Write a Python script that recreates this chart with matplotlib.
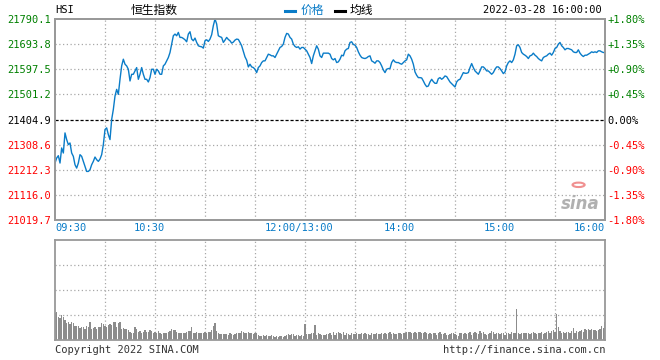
import matplotlib
matplotlib.use('Agg')
import matplotlib.pyplot as plt
import matplotlib.transforms as mtransforms
from matplotlib.lines import Line2D
from matplotlib.patches import Circle

# ---- data (one value per trading minute, 09:30 .. 16:00, lunch break removed) ----
prev_close = 21404.9
y_ticks = [21019.7, 21116.0, 21212.3, 21308.6, 21404.9, 21501.2, 21597.5, 21693.8, 21790.1]
y_labels = ['21019.7', '21116.0', '21212.3', '21308.6', '21404.9',
            '21501.2', '21597.5', '21693.8', '21790.1']
pct_labels = ['-1.80%', '-1.35%', '-0.90%', '-0.45%', '0.00%',
              '+0.45%', '+0.90%', '+1.35%', '+1.80%']
x_ticks = [0, 60, 150, 210, 270, 330]
x_labels = ['09:30', '10:30', '12:00/13:00', '14:00', '15:00', '16:00']
grid_x = list(range(0, 331, 30))

price = [
    21238.0, 21257.2, 21266.2, 21238.0, 21295.8, 21276.5, 21353.5, 21327.9, 21308.6, 21315.0,
    21276.5, 21263.7, 21231.6, 21218.7, 21238.0, 21270.1, 21263.7, 21244.4, 21225.1, 21205.9,
    21205.9, 21212.3, 21231.6, 21244.4, 21261.1, 21250.8, 21244.4, 21253.4, 21270.1, 21308.6,
    21366.4, 21372.8, 21347.1, 21327.9, 21404.9, 21443.4, 21494.8, 21520.5, 21501.2, 21559.0,
    21610.3, 21636.0, 21616.8, 21610.3, 21597.5, 21552.6, 21578.2, 21578.2, 21591.1, 21603.9,
    21559.0, 21578.2, 21603.9, 21578.2, 21559.0, 21559.0, 21548.7, 21565.4, 21597.5, 21597.5,
    21578.2, 21597.5, 21591.1, 21578.2, 21578.2, 21610.3, 21616.8, 21629.6, 21642.4, 21661.7,
    21693.8, 21725.9, 21732.3, 21725.9, 21738.7, 21719.5, 21719.5, 21715.6, 21710.5, 21702.8,
    21732.3, 21741.3,
    21713.1, 21706.7, 21717.0, 21700.3, 21687.4, 21684.9, 21683.6, 21678.4, 21706.7, 21710.5,
    21704.1, 21713.1, 21729.8, 21764.5, 21790.1, 21770.9, 21725.9, 21722.1, 21719.5, 21700.3,
    21709.2, 21719.5, 21711.8, 21706.7, 21697.7, 21701.5, 21709.2, 21713.1, 21711.8, 21700.3,
    21687.4, 21665.6, 21645.0, 21632.2, 21606.5, 21616.8, 21606.5, 21604.0, 21597.5, 21584.7,
    21604.0, 21610.4, 21623.2, 21629.6, 21629.6, 21642.5, 21655.3, 21652.8, 21648.9, 21648.9,
    21642.5, 21655.3, 21668.2, 21681.0, 21684.9, 21693.8, 21719.5, 21734.9, 21732.4, 21719.5,
    21713.1, 21693.8, 21684.9, 21681.0, 21683.6, 21674.6, 21681.0, 21681.0, 21674.6, 21668.2,
    21655.3, 21642.5, 21619.4, 21648.9, 21668.2, 21687.4, 21674.6,
    21648.9, 21642.5, 21659.2, 21659.2, 21659.2, 21659.2, 21655.3, 21638.6, 21633.5, 21638.6,
    21623.2, 21625.8, 21636.0, 21651.4, 21648.9, 21668.1, 21674.6, 21677.1, 21700.2, 21702.8,
    21692.5, 21690.0, 21681.0, 21664.3, 21651.4, 21642.5, 21639.9, 21638.6, 21641.2, 21646.3,
    21648.9, 21629.6, 21625.8, 21620.6, 21629.6, 21629.6, 21623.2, 21610.4, 21595.0, 21584.7,
    21597.5, 21600.1, 21600.1, 21623.2, 21633.5, 21625.8, 21623.2, 21623.2, 21619.3, 21616.8,
    21623.2, 21629.6, 21633.5, 21655.3, 21648.9, 21636.0, 21616.8, 21587.2, 21574.4, 21565.4,
    21565.4, 21564.1, 21552.6, 21539.7, 21530.8, 21533.3, 21548.7, 21559.0, 21550.0, 21543.6,
    21543.6, 21561.6, 21565.4, 21559.0, 21564.1, 21571.8, 21569.3, 21559.0, 21548.7, 21542.3,
    21535.9, 21529.5, 21548.7, 21556.4,
    21559.0, 21571.8, 21584.7, 21582.1, 21582.1, 21584.7, 21603.9, 21619.3, 21603.9, 21591.1,
    21584.7, 21578.3, 21591.1, 21606.5, 21606.5, 21600.1, 21591.1, 21591.1, 21584.7, 21578.3,
    21584.7, 21597.5, 21606.5, 21606.5, 21600.1, 21591.1, 21580.8, 21587.2, 21610.4, 21623.2,
    21629.6, 21623.2, 21633.5, 21655.3, 21687.4, 21691.3, 21681.0, 21661.7, 21655.3, 21651.4,
    21646.3, 21638.6, 21648.9, 21651.4, 21659.2, 21651.4, 21646.3, 21638.6, 21633.5, 21629.6,
    21642.5, 21646.3, 21648.9, 21655.3, 21659.2, 21651.4, 21661.7, 21677.1, 21681.0, 21693.8,
    21700.2, 21687.4, 21681.0, 21672.0, 21677.1, 21677.1, 21674.6, 21672.0, 21664.3, 21661.7,
    21661.7, 21672.0, 21659.2, 21651.4, 21646.3, 21651.4, 21651.4, 21655.3, 21659.2, 21664.3,
    21661.7, 21664.3, 21661.7, 21668.1, 21668.1, 21664.3, 21661.7, 21661.7,
]

volume = [
    80, 85, 70, 65, 75, 70, 60, 50, 55, 48,
    55, 50, 42, 42, 42, 35, 40, 40, 32, 42,
    38, 55, 32, 35, 40, 32, 38, 40, 50, 48,
    42, 40, 45, 48, 45, 55, 55, 38, 52, 55,
    32, 35, 32, 34, 30, 25, 20, 20, 40, 32,
    25, 27, 22, 25, 30, 25, 25, 30, 27, 20,
    25, 22, 28, 20, 18, 22, 22, 22, 25, 27,
    32, 30, 30, 25, 22, 22, 20, 22, 20, 25,
    27, 28, 38, 20, 22, 24, 20, 22, 20, 22,
    24, 22, 24, 25, 30, 42, 50, 28, 22, 18,
    18, 18, 18, 18, 15, 20, 18, 15, 18, 20,
    22, 22, 28, 25, 22, 22, 24, 22, 22, 18,
    20, 22, 15, 12, 12, 15, 12, 15, 12, 12,
    14, 12, 10, 12, 10, 12, 12, 10, 12, 15,
    17, 15, 17, 18, 12, 15, 15, 12, 15, 12,
    48, 18, 18, 18, 20, 22, 45, 15, 20, 18,
    15, 15, 15, 18, 18,
    20, 15, 25, 15, 20, 24, 22, 18, 25, 15, 20, 18, 15, 20, 18,
    18, 20, 18, 18, 20, 18, 20, 18, 18, 15, 20, 18, 18, 22, 18,
    18, 20, 18, 20, 18, 22, 25, 18, 20, 18, 18, 22, 20, 18, 20,
    22, 25, 24, 24, 22, 20, 25, 22, 24, 25, 22, 20, 25, 20, 18,
    20, 18, 20, 20, 15, 22, 25, 18, 18, 20, 16, 16, 18, 22, 20,
    18, 15, 12, 22, 20, 18, 20, 18, 22, 25, 15, 20, 24, 22, 18,
    28, 20, 25, 18, 15, 18, 22, 28, 25, 18, 20, 22, 18, 20, 22,
    15, 20, 22, 18, 25, 20, 22, 92, 22, 18, 20, 20, 22, 20, 22,
    18, 22, 25, 22, 18, 20, 22, 25, 18, 22, 25, 28, 22, 28, 30,
    25, 78, 40, 28, 22, 25, 22, 25, 25, 22, 28, 35, 22, 28, 25, 28,
    30, 25, 32, 30, 32, 30, 32, 30, 30, 28, 30, 32, 42, 35, 55,
]
vol_grid = [75, 150, 225]

minutes = list(range(len(price)))

LINE = '#0a7cc8'
GRID = '#a8a8a8'
FRAME = '#999999'
UP = '#008000'
DOWN = '#ff0000'
MONO = 'DejaVu Sans Mono'
CJK = ['Noto Sans CJK SC', 'DejaVu Sans']

W, H = 660, 360
fig = plt.figure(figsize=(W / 100, H / 100), dpi=100)
ax = fig.add_axes([55 / W, 1 - 220 / H, 550 / W, 201 / H])
axv = fig.add_axes([55 / W, 1 - 340 / H, 550 / W, 100 / H])


def frame(a):
    for s in a.spines.values():
        s.set_color(FRAME)
        s.set_linewidth(1.3)


# ---- price panel ----
ax.set_xlim(0, 330)
ax.set_ylim(y_ticks[0], y_ticks[-1])
for gx in grid_x[1:-1]:
    ax.axvline(gx, color=GRID, lw=0.9, ls=(0, (1, 2)), zorder=1)
for gy in y_ticks[1:-1]:
    if gy == prev_close:
        ax.axhline(gy, color='black', lw=0.9, ls=(0, (2.5, 1.5)), zorder=1)
    else:
        ax.axhline(gy, color=GRID, lw=0.9, ls=(0, (1, 2)), zorder=1)
ax.plot(minutes, price, color=LINE, lw=1.0, zorder=3)
frame(ax)

ax.set_yticks(y_ticks, y_labels, fontfamily=MONO, fontsize=7.5)
ax.tick_params(axis='y', length=0, pad=3)
for lab, v in zip(ax.get_yticklabels(), y_ticks):
    lab.set_color(UP if v > prev_close else (DOWN if v < prev_close else 'black'))

ax.set_xticks(x_ticks, x_labels, fontfamily=MONO, fontsize=7.5, color=LINE)
ax.tick_params(axis='x', length=0, pad=2)
shift = mtransforms.ScaledTranslation(-6 / 100, 0, fig.dpi_scale_trans)
xl = ax.get_xticklabels()
for i, lab in enumerate(xl):
    if i == 0:
        lab.set_ha('left')
    elif i == len(xl) - 1:
        lab.set_ha('right')
    else:
        lab.set_ha('center')
        lab.set_transform(lab.get_transform() + shift)

axr = ax.twinx()
axr.set_ylim(ax.get_ylim())
axr.set_yticks(y_ticks, pct_labels, fontfamily=MONO, fontsize=7.5)
axr.tick_params(axis='y', length=0, pad=1.5)
for lab, v in zip(axr.get_yticklabels(), y_ticks):
    lab.set_color(UP if v > prev_close else (DOWN if v < prev_close else 'black'))
frame(axr)

# sina watermark
ax.text(0.955, 0.08, 'sina', transform=ax.transAxes, ha='center', va='center',
        fontsize=12, fontweight='bold', fontstyle='italic', color='#b0b0b0', zorder=2)
ax.add_patch(Circle((0.952, 0.175), 0.011, transform=ax.transAxes, fill=False,
                    ec='#f09090', lw=1.5, zorder=2))

# ---- volume panel ----
axv.set_xlim(0, 330)
axv.set_ylim(0, 300)
for gx in grid_x[1:-1]:
    axv.axvline(gx, color=GRID, lw=0.9, ls=(0, (1, 2)), zorder=1)
for gy in vol_grid:
    axv.axhline(gy, color=GRID, lw=0.9, ls=(0, (1, 2)), zorder=1)
axv.bar(minutes, volume, width=0.62, color='#8c8c8c', lw=0, antialiased=False, zorder=2)
axv.set_xticks([])
axv.set_yticks([])
frame(axv)

# ---- header / footer ----
fig.text(55 / W, 1 - 10 / H, 'HSI', fontfamily=MONO, fontsize=7.5, va='center')
fig.text(154 / W, 1 - 10 / H, '恒生指数', family=CJK, fontsize=8.5, ha='center', va='center')
fig.add_artist(Line2D([285 / W, 295 / W], [1 - 11 / H, 1 - 11 / H], color=LINE, lw=2.2))
fig.text(301 / W, 1 - 10 / H, '价格', family=CJK, fontsize=8.5, color=LINE, va='center')
fig.add_artist(Line2D([335 / W, 345 / W], [1 - 11 / H, 1 - 11 / H], color='black', lw=2.2))
fig.text(350 / W, 1 - 10 / H, '均线', family=CJK, fontsize=8.5, color='black', va='center')
fig.text(602 / W, 1 - 10 / H, '2022-03-28 16:00:00', fontfamily=MONO, fontsize=7.5,
         ha='right', va='center')
fig.text(55 / W, 1 - 350 / H, 'Copyright 2022 SINA.COM', fontfamily=MONO, fontsize=7.5,
         color='#333333', va='center')
fig.text(605 / W, 1 - 350 / H, 'http://finance.sina.com.cn', fontfamily=MONO, fontsize=7.5,
         color='#333333', ha='right', va='center')

fig.savefig('out.png', dpi=100)
